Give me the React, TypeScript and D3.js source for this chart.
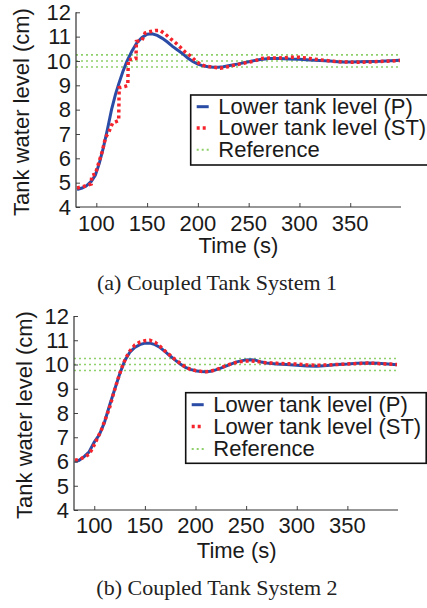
import { useRef, useEffect } from 'react';
import * as d3 from 'd3';

// ---- data ----

// (a) Coupled Tank System 1
const timeA_P = [81, 86, 90, 95, 99, 103, 107, 111, 115, 119, 122, 126, 130, 135, 140, 145, 150, 155, 160, 165, 170, 175, 180, 185, 190, 195, 200, 205, 210, 215, 220, 225, 230, 240, 250, 260, 270, 280, 290, 300, 310, 320, 330, 340, 350, 360, 370, 380, 390, 399];
const levelA_P = [4.72, 4.78, 4.86, 5.05, 5.3, 5.8, 6.45, 7.2, 8.0, 8.65, 9.05, 9.55, 9.97, 10.4, 10.75, 10.97, 11.1, 11.12, 11.05, 10.93, 10.78, 10.6, 10.45, 10.3, 10.12, 9.98, 9.87, 9.8, 9.76, 9.74, 9.74, 9.76, 9.8, 9.88, 9.97, 10.05, 10.1, 10.1, 10.08, 10.07, 10.04, 10.02, 10.0, 9.96, 9.96, 9.97, 9.98, 9.99, 10.01, 10.03];

const timeA_ST = [81, 88, 95, 95.5, 99, 103, 106, 109, 112, 116, 122, 122.5, 128, 131, 131.5, 139, 139.5, 145, 148, 152, 158, 163, 168, 173, 178, 183, 188, 193, 198, 203, 208, 215, 222, 228, 235, 242, 250, 256, 262, 270, 280, 290, 300, 310, 320, 330, 340, 350, 360, 370, 380, 390, 399];
const levelA_ST = [4.78, 4.85, 4.95, 5.3, 5.35, 5.9, 6.3, 6.85, 7.05, 7.45, 7.55, 8.9, 8.95, 9.0, 10.05, 10.1, 10.8, 10.85, 11.15, 11.2, 11.25, 11.25, 11.1, 10.92, 10.75, 10.55, 10.35, 10.2, 10.0, 9.85, 9.78, 9.75, 9.7, 9.75, 9.82, 9.88, 9.95, 10.0, 10.1, 10.12, 10.12, 10.15, 10.15, 10.1, 10.05, 10.0, 9.97, 9.95, 9.95, 9.96, 9.98, 10.0, 10.02];

// (b) Coupled Tank System 2
const timeB_P = [81, 85, 90, 95, 100, 105, 110, 115, 120, 125, 130, 135, 140, 145, 150, 155, 160, 165, 170, 175, 180, 185, 190, 195, 200, 205, 210, 215, 220, 225, 230, 235, 240, 245, 250, 255, 260, 265, 270, 280, 290, 300, 310, 320, 330, 340, 350, 360, 370, 380, 390, 399];
const levelB_P = [6.0, 6.05, 6.2, 6.4, 6.8, 7.1, 7.6, 8.3, 8.95, 9.6, 10.15, 10.5, 10.7, 10.82, 10.88, 10.88, 10.82, 10.7, 10.53, 10.35, 10.18, 10.02, 9.88, 9.8, 9.74, 9.71, 9.7, 9.72, 9.78, 9.85, 9.93, 10.02, 10.1, 10.15, 10.19, 10.2, 10.17, 10.1, 10.06, 10.02, 10.0, 9.97, 9.94, 9.93, 9.96, 10.0, 10.02, 10.05, 10.06, 10.05, 10.02, 9.99];

const timeB_ST = [81, 86, 91, 95, 99, 103, 107, 111, 115, 119, 123, 127, 131, 135, 140, 145, 150, 155, 160, 165, 170, 175, 180, 185, 190, 195, 200, 205, 210, 215, 220, 225, 230, 235, 240, 245, 250, 255, 260, 265, 270, 280, 290, 300, 310, 320, 330, 340, 350, 360, 370, 380, 390, 399];
const levelB_ST = [6.05, 6.1, 6.2, 6.3, 6.6, 6.95, 7.3, 7.75, 8.2, 8.8, 9.35, 9.85, 10.25, 10.55, 10.8, 10.92, 10.98, 11.0, 10.92, 10.75, 10.55, 10.38, 10.2, 10.05, 9.9, 9.8, 9.75, 9.72, 9.7, 9.73, 9.78, 9.86, 9.95, 10.02, 10.08, 10.12, 10.14, 10.15, 10.13, 10.1, 10.07, 10.05, 10.03, 10.02, 9.98, 9.97, 9.98, 10.0, 10.02, 10.04, 10.06, 10.04, 10.02, 10.0];

const referenceLevels = [10.25, 10, 9.75];
const xTicks = [100, 150, 200, 250, 300, 350];
const yTicks = [4, 5, 6, 7, 8, 9, 10, 11, 12];
const legendLabels = ['Lower tank level (P)', 'Lower tank level (ST)', 'Reference'];
const captions = ['(a) Coupled Tank System 1', '(b) Coupled Tank System 2'];

const X_DOMAIN: [number, number] = [80, 400];
const Y_DOMAIN: [number, number] = [4, 12];

const BLUE = '#2b4ca6';
const RED = '#f5232b';
const GREEN = '#8fd06a';
const SANS = '"Liberation Sans", Arial, sans-serif';
const SERIF = '"Liberation Serif", "Times New Roman", serif';

interface PanelLayout {
  xRange: [number, number];
  yRange: [number, number];
  legend: { x: number; y: number; w: number; h: number; rows: number[]; sampleX: number; textX: number };
  yLabel: { x: number; y: number };
  xLabel: { x: number; y: number };
  tickBaseline: number;
  caption: { x: number; y: number };
}

const LAYOUTS: PanelLayout[] = [
  {
    xRange: [76, 401],
    yRange: [207, 12.3],
    legend: { x: 190.7, y: 95, w: 245, h: 70, rows: [106.7, 128, 149.8], sampleX: 196.7, textX: 218.3 },
    yLabel: { x: 28.5, y: 112 },
    xLabel: { x: 238.5, y: 252.5 },
    tickBaseline: 231,
    caption: { x: 217, y: 290 },
  },
  {
    xRange: [74, 398],
    yRange: [510, 316],
    legend: { x: 185.7, y: 392.7, w: 240.5, h: 70.6, rows: [404.7, 426.5, 449], sampleX: 191.7, textX: 213.3 },
    yLabel: { x: 32, y: 415 },
    xLabel: { x: 236.7, y: 558 },
    tickBaseline: 533,
    caption: { x: 217, y: 595 },
  },
];

const SERIES = [
  { p: [timeA_P, levelA_P], st: [timeA_ST, levelA_ST] },
  { p: [timeB_P, levelB_P], st: [timeB_ST, levelB_ST] },
];

function drawPanel(
  svg: d3.Selection<SVGSVGElement, unknown, null, undefined>,
  layout: PanelLayout,
  series: { p: number[][]; st: number[][] },
  caption: string
) {
  const x = d3.scaleLinear().domain(X_DOMAIN).range(layout.xRange);
  const y = d3.scaleLinear().domain(Y_DOMAIN).range(layout.yRange);
  const g = svg.append('g');

  // reference band (dotted green)
  referenceLevels.forEach((lv) => {
    g.append('line')
      .attr('x1', x(X_DOMAIN[0]))
      .attr('x2', x(X_DOMAIN[1]))
      .attr('y1', y(lv))
      .attr('y2', y(lv))
      .attr('stroke', GREEN)
      .attr('stroke-width', 1.6)
      .attr('stroke-dasharray', '2,3');
  });

  const line = d3
    .line<[number, number]>()
    .x((d) => x(d[0]))
    .y((d) => y(d[1]));

  const pPts = series.p[0].map((t, i) => [t, series.p[1][i]] as [number, number]);
  const stPts = series.st[0].map((t, i) => [t, series.st[1][i]] as [number, number]);

  g.append('path')
    .attr('d', line(pPts))
    .attr('fill', 'none')
    .attr('stroke', BLUE)
    .attr('stroke-width', 3);

  g.append('path')
    .attr('d', line(stPts))
    .attr('fill', 'none')
    .attr('stroke', RED)
    .attr('stroke-width', 3.5)
    .attr('stroke-dasharray', '3,3');

  // axes (MATLAB style, ticks inside, box off)
  const [x0, x1] = layout.xRange;
  const [yb, yt] = layout.yRange;
  const xAxis = g
    .append('g')
    .attr('transform', `translate(0,${yb})`)
    .call(d3.axisBottom(x).tickValues(xTicks).tickSize(-4).tickSizeOuter(0).tickFormat(() => ''));
  xAxis.select('.domain').remove();
  xAxis.selectAll('line').attr('stroke', '#444');

  const yAxis = g
    .append('g')
    .attr('transform', `translate(${x0},0)`)
    .call(d3.axisLeft(y).tickValues(yTicks).tickSize(-4).tickSizeOuter(0).tickFormat(() => ''));
  yAxis.select('.domain').remove();
  yAxis.selectAll('line').attr('stroke', '#444');

  g.append('path')
    .attr('d', `M${x0},${yt}V${yb}H${x1}`)
    .attr('fill', 'none')
    .attr('stroke', '#333')
    .attr('stroke-width', 1.2);

  // tick labels
  g.selectAll('.xt')
    .data(xTicks)
    .enter()
    .append('text')
    .attr('x', (d) => x(d))
    .attr('y', layout.tickBaseline)
    .attr('text-anchor', 'middle')
    .style('font-family', SANS)
    .style('font-size', '22px')
    .style('fill', '#1a1a1a')
    .text((d) => String(d));

  g.selectAll('.yt')
    .data(yTicks)
    .enter()
    .append('text')
    .attr('x', x0 - 5)
    .attr('y', (d) => y(d) + 7.8)
    .attr('text-anchor', 'end')
    .style('font-family', SANS)
    .style('font-size', '22px')
    .style('fill', '#1a1a1a')
    .text((d) => String(d));

  g.append('text')
    .attr('transform', `translate(${layout.yLabel.x},${layout.yLabel.y}) rotate(-90)`)
    .attr('text-anchor', 'middle')
    .style('font-family', SANS)
    .style('font-size', '22px')
    .style('fill', '#1a1a1a')
    .text('Tank water level (cm)');

  g.append('text')
    .attr('x', layout.xLabel.x)
    .attr('y', layout.xLabel.y)
    .attr('text-anchor', 'middle')
    .style('font-family', SANS)
    .style('font-size', '22px')
    .style('fill', '#1a1a1a')
    .text('Time (s)');

  // legend
  const lg = layout.legend;
  g.append('rect')
    .attr('x', lg.x)
    .attr('y', lg.y)
    .attr('width', lg.w)
    .attr('height', lg.h)
    .attr('fill', 'white')
    .attr('stroke', '#111')
    .attr('stroke-width', 1.6);

  const styles = [
    { stroke: BLUE, width: 3, dash: null as string | null },
    { stroke: RED, width: 3.5, dash: '3,3' },
    { stroke: GREEN, width: 2, dash: '2,3' },
  ];
  legendLabels.forEach((label, i) => {
    const ry = lg.rows[i];
    g.append('line')
      .attr('x1', lg.sampleX)
      .attr('x2', lg.sampleX + 12)
      .attr('y1', ry)
      .attr('y2', ry)
      .attr('stroke', styles[i].stroke)
      .attr('stroke-width', styles[i].width)
      .attr('stroke-dasharray', styles[i].dash);
    g.append('text')
      .attr('x', lg.textX)
      .attr('y', ry + 7.2)
      .style('font-family', SANS)
      .style('font-size', '22px')
      .style('fill', '#1a1a1a')
      .text(label);
  });

  // caption
  g.append('text')
    .attr('x', layout.caption.x)
    .attr('y', layout.caption.y)
    .attr('text-anchor', 'middle')
    .style('font-family', SERIF)
    .style('font-size', '22px')
    .style('fill', '#222')
    .text(caption);
}

export default function App() {
  const svgRef = useRef<SVGSVGElement>(null);

  useEffect(() => {
    if (!svgRef.current) return;
    const svg = d3.select(svgRef.current);
    svg.selectAll('*').remove();
    LAYOUTS.forEach((layout, i) => drawPanel(svg, layout, SERIES[i], captions[i]));
  }, []);

  return (
    <svg
      ref={svgRef}
      width={427}
      height={608}
      style={{ position: 'absolute', left: 0, top: 0, background: 'white' }}
    />
  );
}
